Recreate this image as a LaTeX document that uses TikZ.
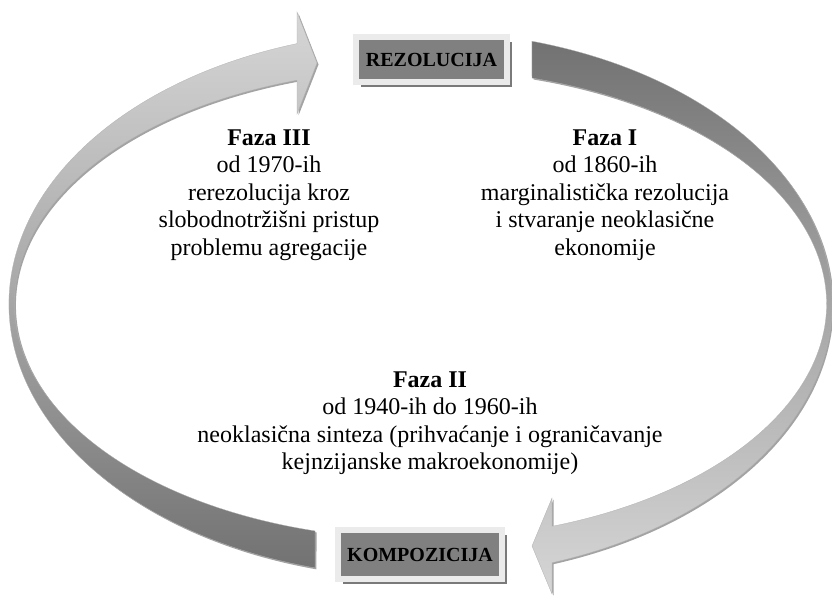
\documentclass[tikz,border=0pt]{standalone}
\usepackage{fontspec}
\setmainfont{Liberation Serif}
\usetikzlibrary{calc,shadows}
\definecolor{boxfill}{HTML}{808080}
\definecolor{boxframe}{HTML}{EBEBEB}
\definecolor{boxshadow}{HTML}{7A7A7A}
\definecolor{arrowlight}{HTML}{D6D6D6}
\definecolor{arrowmid}{HTML}{A8A8A8}
\definecolor{arrowdark}{HTML}{727272}
\begin{document}
\begin{tikzpicture}[x=1pt,y=1pt,
  phasebox/.style={fill=boxfill, draw=boxframe, line width=6pt, inner sep=0pt,
    font=\fontsize{20}{24}\selectfont\bfseries, text=black,
    drop shadow={shadow xshift=5pt, shadow yshift=-5pt, fill=boxshadow, opacity=1}},
  phasetext/.style={align=center, inner sep=0pt, anchor=north,
    font=\fontsize{24}{27.5}\selectfont},
  bandarrow/.style={drop shadow={shadow xshift=1.5pt, shadow yshift=-1.5pt, fill=black!60, opacity=0.6},
    draw=black!30, line width=0.3pt}
]
\useasboundingbox (0,0) rectangle (832,598);
\coordinate (C) at (420.5,294);

% left arrow (KOMPOZICIJA -> REZOLUCIJA)
\path[bandarrow, top color=arrowlight, bottom color=arrowdark, middle color=arrowmid]
  ($(C)+(255.14:411.5pt and 273pt)$)
  arc[start angle=255.14, end angle=107.46, x radius=411.5pt, y radius=273pt]
  -- (297,586) -- (317,535) -- (297,484)
  -- ($(C)+(107.71:406pt and 235pt)$)
  arc[start angle=107.71, end angle=254.94, x radius=406pt, y radius=235pt] -- cycle;

% right arrow (REZOLUCIJA -> KOMPOZICIJA)
\path[bandarrow, top color=arrowdark, bottom color=arrowlight, middle color=arrowmid]
  ($(C)+(74.28:411.5pt and 273pt)$)
  arc[start angle=74.28, end angle=-71.36, x radius=411.5pt, y radius=273pt]
  -- (552,4) -- (532,52) -- (552,100)
  -- ($(C)+(-71.10:406pt and 235pt)$)
  arc[start angle=-71.10, end angle=74.06, x radius=406pt, y radius=235pt] -- cycle;

\node[phasebox, minimum width=151pt, minimum height=45pt] (rez) at (431.5,538.5) {REZOLUCIJA};
\node[phasebox, minimum width=164pt, minimum height=49pt] (komp) at (420,43.5) {KOMPOZICIJA};

\node[phasetext] (f3) at (269,468.7) {\textbf{Faza III}\\od 1970-ih\\rerezolucija kroz\\slobodnotržišni pristup\\problemu agregacije};
\node[phasetext] (f1) at (605,468.7) {\textbf{Faza I}\\od 1860-ih\\marginalistička rezolucija\\i stvaranje neoklasične\\ekonomije};
\node[phasetext] (f2) at (430,226.7) {\textbf{Faza II}\\od 1940-ih do 1960-ih\\neoklasična sinteza (prihvaćanje i ograničavanje\\kejnzijanske makroekonomije)};
\end{tikzpicture}
\end{document}
